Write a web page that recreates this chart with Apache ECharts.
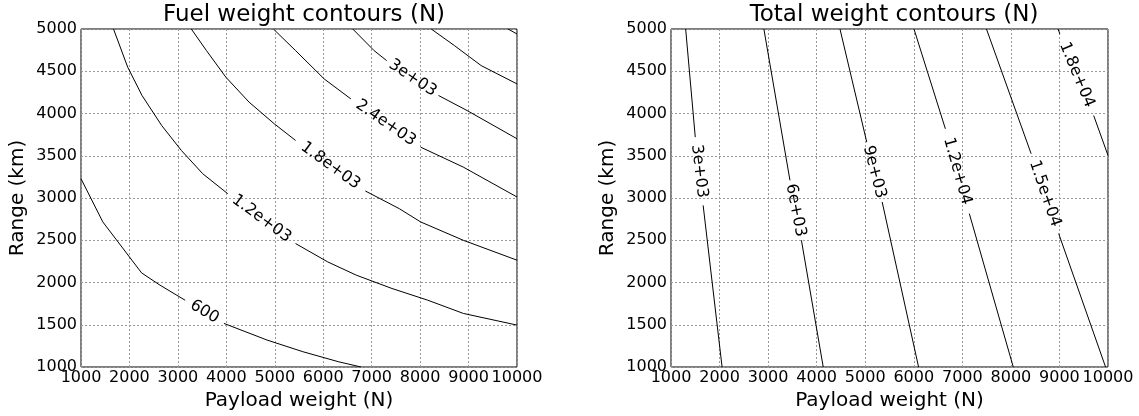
<!DOCTYPE html>
<html>
<head>
<meta charset="utf-8">
<script src="https://cdn.jsdelivr.net/npm/echarts/dist/echarts.min.js"></script>
<style>
  html, body { margin: 0; padding: 0; background: #fff; }
  #chart { width: 1139px; height: 416px; }
</style>
</head>
<body>
<div id="chart"></div>
<script>
// Axis ticks shared by both panels
const payloadTicks = [1000, 2000, 3000, 4000, 5000, 6000, 7000, 8000, 9000, 10000];
const rangeTicks = [1000, 1500, 2000, 2500, 3000, 3500, 4000, 4500, 5000];

// Fuel weight contour lines [payload N, range km]; null marks where the inline label sits
const fuel600 = [[1000, 3228], [1450, 2717], [2250, 2114], [2630, 1969], [3150, 1790], null,
  [3950, 1516], [4840, 1319], [5580, 1181], [6310, 1063], [6780, 1000]];
const fuel1200 = [[1671, 5000], [1965, 4547], [2260, 4213], [2665, 3858], [3071, 3563], [3513, 3287], [4029, 3051], null,
  [5429, 2461], [6092, 2244], [6682, 2087], [7419, 1929], [8156, 1791], [8892, 1634], [10000, 1496]];
const fuel1800 = [[3277, 5000], [3590, 4744], [3990, 4430], [4470, 4134], [4990, 3878], [5430, 3681], null,
  [6870, 3083], [7570, 2874], [8010, 2717], [8890, 2500], [10000, 2264]];
const fuel2400 = [[4972, 5000], [5430, 4744], [6020, 4409], [6570, 4173], null,
  [8010, 3602], [8890, 3366], [10000, 3012]];
const fuel3000 = [[6610, 5000], [7050, 4744], [7310, 4626], null,
  [8380, 4213], [8970, 4035], [10000, 3701]];
const fuel3600 = [[8230, 5000], [8710, 4803], [9260, 4567], [10000, 4350]];
const fuel4200 = [[9814, 5000], [10000, 4941]];

// Total weight contour lines
const total3000 = [[1302, 5000], [1500, 3720], null, [1662, 2913], [2052, 1000]];
const total6000 = [[2913, 5000], [3450, 3209], null, [3686, 2500], [4135, 1000]];
const total9000 = [[4480, 5000], [5032, 3661], null, [5349, 2953], [6099, 1000]];
const total12000 = [[6004, 5000], [6651, 3819], null, [7144, 2815], [8049, 1000]];
const total15000 = [[7497, 5000], [8417, 3524], null, [8984, 2579], [9950, 1000]];
const total18000 = [[8970, 5000], [9010, 4940], null, [9705, 3976], [10000, 3504]];

const fuelContours = [
  { pts: fuel600, text: '600' },
  { pts: fuel1200, text: '1.2e+03' },
  { pts: fuel1800, text: '1.8e+03' },
  { pts: fuel2400, text: '2.4e+03' },
  { pts: fuel3000, text: '3e+03' },
  { pts: fuel3600, text: null },
  { pts: fuel4200, text: null }
];
const totalContours = [
  { pts: total3000, text: '3e+03' },
  { pts: total6000, text: '6e+03' },
  { pts: total9000, text: '9e+03' },
  { pts: total12000, text: '1.2e+04' },
  { pts: total15000, text: '1.5e+04' },
  { pts: total18000, text: '1.8e+04' }
];

const FONT = 'DejaVu Sans';
const chart = echarts.init(document.getElementById('chart'), null, { renderer: 'canvas' });

const grids = [
  { left: 81, right: 622, top: 29, bottom: 49 },
  { left: 671, right: 31, top: 29, bottom: 49 }
].map(g => Object.assign(g, { show: true, borderColor: '#000', borderWidth: 1, backgroundColor: 'transparent', containLabel: false }));

const plainNumber = v => String(v);

function xAxis(gi) {
  return {
    type: 'value', gridIndex: gi,
    min: payloadTicks[0], max: payloadTicks[payloadTicks.length - 1], interval: payloadTicks[1] - payloadTicks[0],
    name: 'Payload weight (N)', nameLocation: 'middle', nameGap: 22,
    nameTextStyle: { fontSize: 20, color: '#000', fontFamily: FONT },
    axisLine: { show: false }, axisTick: { show: false },
    axisLabel: { fontSize: 16, color: '#000', fontFamily: FONT, margin: 3, formatter: plainNumber,
      showMinLabel: true, showMaxLabel: true },
    splitLine: { show: true, lineStyle: { color: '#999', width: 1, type: [2, 2] } }
  };
}
function yAxis(gi) {
  return {
    type: 'value', gridIndex: gi,
    min: rangeTicks[0], max: rangeTicks[rangeTicks.length - 1], interval: rangeTicks[1] - rangeTicks[0],
    name: 'Range (km)', nameLocation: 'middle', nameGap: 53,
    nameTextStyle: { fontSize: 20, color: '#000', fontFamily: FONT },
    axisLine: { show: false }, axisTick: { show: false },
    axisLabel: { fontSize: 16, color: '#000', fontFamily: FONT, margin: 4, formatter: plainNumber,
      showMinLabel: true, showMaxLabel: true },
    splitLine: { show: true, lineStyle: { color: '#999', width: 1, type: [2, 2] } }
  };
}

function lineSeries(contours, gi) {
  return contours.map(c => ({
    type: 'line', xAxisIndex: gi, yAxisIndex: gi,
    data: c.pts.map(p => p === null ? ['-', '-'] : p),
    symbol: 'none', connectNulls: false, silent: true, animation: false, z: 3,
    lineStyle: { color: '#000', width: 1 }
  }));
}

const titleStyle = { fontSize: 23, fontWeight: 'normal', color: '#000', fontFamily: FONT };
const baseOption = {
  animation: false,
  backgroundColor: '#fff',
  title: [
    { text: 'Fuel weight contours (N)', left: 299, top: -1, textAlign: 'center', textStyle: titleStyle },
    { text: 'Total weight contours (N)', left: 889, top: -1, textAlign: 'center', textStyle: titleStyle }
  ],
  grid: grids,
  xAxis: [xAxis(0), xAxis(1)],
  yAxis: [yAxis(0), yAxis(1)],
  series: lineSeries(fuelContours, 0).concat(lineSeries(totalContours, 1))
};
chart.setOption(baseOption);

// Inline contour labels: centred in each gap, rotated along the line
function labelSeries(contours, gi) {
  const data = [];
  contours.forEach(c => {
    if (!c.text) return;
    const k = c.pts.indexOf(null);
    const a = c.pts[k - 1], b = c.pts[k + 1];
    const pa = chart.convertToPixel({ gridIndex: gi }, a);
    const pb = chart.convertToPixel({ gridIndex: gi }, b);
    let ang = Math.atan2(-(pb[1] - pa[1]), pb[0] - pa[0]) * 180 / Math.PI;
    if (ang > 90) ang -= 180;
    if (ang < -90) ang += 180;
    data.push({
      value: [(a[0] + b[0]) / 2, (a[1] + b[1]) / 2],
      label: { rotate: ang, formatter: c.text }
    });
  });
  return {
    type: 'scatter', xAxisIndex: gi, yAxisIndex: gi, data: data,
    symbolSize: 1, itemStyle: { color: 'rgba(0,0,0,0)' }, silent: true, animation: false, z: 4,
    label: { show: true, position: 'inside', fontSize: 16, color: '#000', fontFamily: FONT,
      textBorderWidth: 0, textBorderColor: 'transparent', opacity: 1 }
  };
}

chart.setOption({
  series: baseOption.series.concat([labelSeries(fuelContours, 0), labelSeries(totalContours, 1)])
});
</script>
</body>
</html>
